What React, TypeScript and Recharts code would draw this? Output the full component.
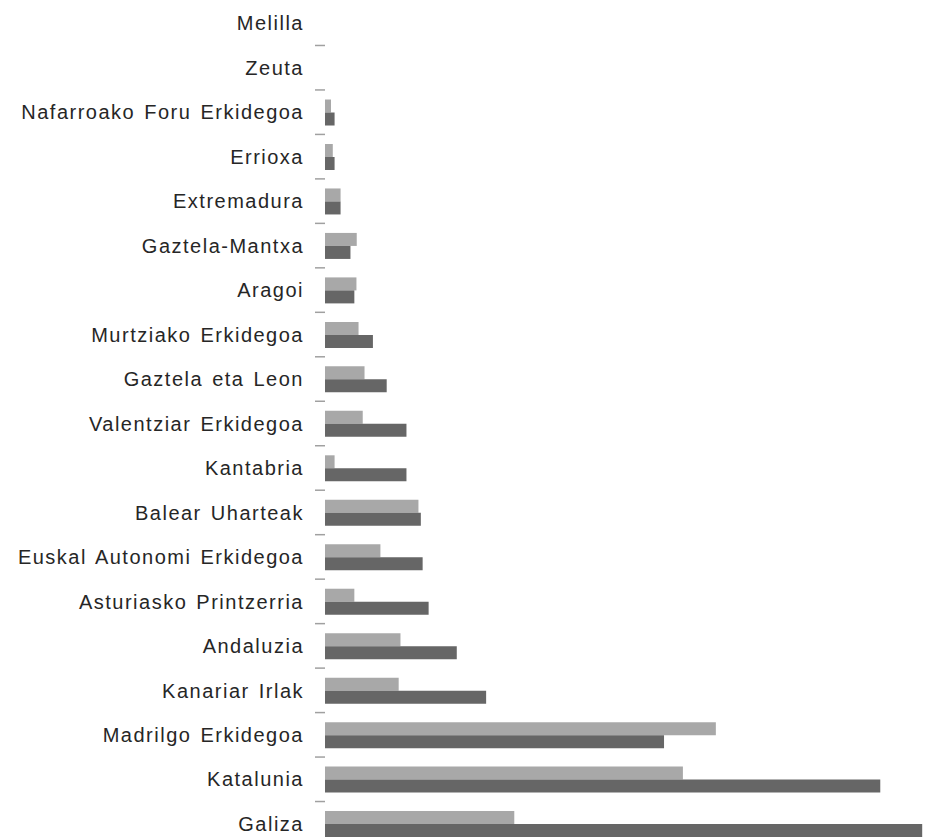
import { Bar, BarChart, XAxis, YAxis } from 'recharts';

// top to bottom as drawn
const regions = [
    'Melilla',
    'Zeuta',
    'Nafarroako Foru Erkidegoa',
    'Errioxa',
    'Extremadura',
    'Gaztela-Mantxa',
    'Aragoi',
    'Murtziako Erkidegoa',
    'Gaztela eta Leon',
    'Valentziar Erkidegoa',
    'Kantabria',
    'Balear Uharteak',
    'Euskal Autonomi Erkidegoa',
    'Asturiasko Printzerria',
    'Andaluzia',
    'Kanariar Irlak',
    'Madrilgo Erkidegoa',
    'Katalunia',
    'Galiza',
];

const seriesA = [0, 0, 1.0, 1.3, 2.6, 5.3, 5.25, 5.6, 6.6, 6.3, 1.6, 15.6, 9.25, 4.9, 12.6, 12.3, 65.25, 59.75, 31.6];
const seriesB = [0, 0, 1.6, 1.6, 2.6, 4.25, 4.9, 8.0, 10.3, 13.6, 13.6, 16.0, 16.3, 17.3, 22.0, 26.9, 56.6, 92.7, 99.7];

const data = regions.map((name, i) => ({ name, a: seriesA[i], b: seriesB[i] }));

const TICK_SIZE = 10;
const TICK_MARGIN = 11;

function RegionTick(props: any) {
    const { x, y, payload } = props;
    const half = payload?.offset ?? 0;
    return (
        <g>
            <text
                x={x}
                y={y}
                dy="0.36em"
                textAnchor="end"
                fill="#262626"
                fontSize={20}
                letterSpacing={1.5}
                wordSpacing={2}
                fontFamily="'Liberation Sans', Arial, sans-serif"
            >
                {payload.value}
            </text>
            <line
                x1={x + TICK_MARGIN}
                x2={x + TICK_MARGIN + TICK_SIZE}
                y1={y + half}
                y2={y + half}
                stroke="#a0a0a0"
                strokeWidth={1.5}
            />
        </g>
    );
}

export default function App() {
    return (
        <div
            style={{
                position: 'absolute',
                top: 0,
                left: 0,
                width: 926,
                height: 838,
                overflow: 'hidden',
                background: '#fff',
            }}
        >
            <BarChart
                width={926}
                height={846}
                data={data}
                layout="vertical"
                margin={{ top: 1, right: 2, bottom: 0, left: 0 }}
                barCategoryGap="21.5%"
                barGap={0}
            >
                <XAxis type="number" domain={[0, 100]} hide />
                <YAxis
                    type="category"
                    dataKey="name"
                    width={325}
                    axisLine={false}
                    tickLine={false}
                    tickSize={TICK_SIZE}
                    tickMargin={TICK_MARGIN}
                    interval={0}
                    tick={<RegionTick />}
                />
                <Bar dataKey="a" fill="#a8a8a8" isAnimationActive={false} />
                <Bar dataKey="b" fill="#666666" isAnimationActive={false} />
            </BarChart>
        </div>
    );
}
